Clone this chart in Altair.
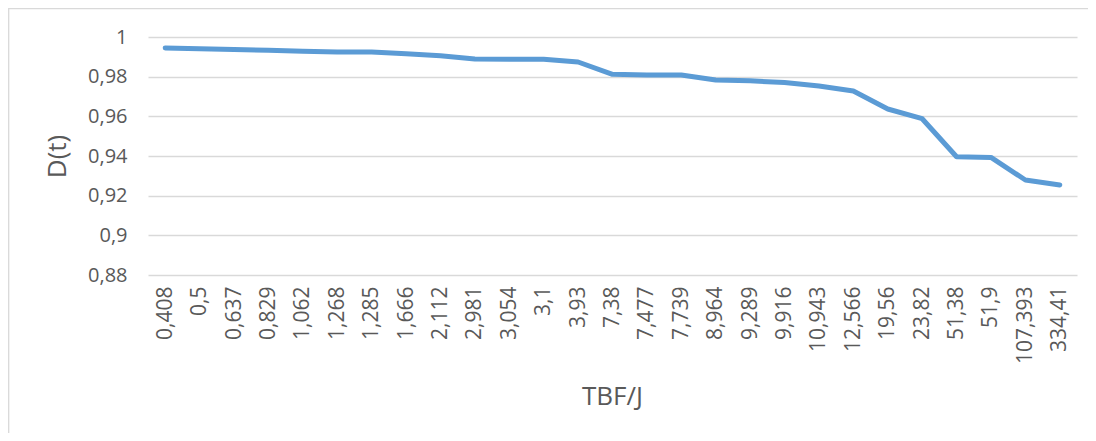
import altair as alt
import pandas as pd

categories = ["0,408", "0,5", "0,637", "0,829", "1,062", "1,268", "1,285", "1,666",
              "2,112", "2,981", "3,054", "3,1", "3,93", "7,38", "7,477", "7,739",
              "8,964", "9,289", "9,916", "10,943", "12,566", "19,56", "23,82",
              "51,38", "51,9", "107,393", "334,41"]
values = [0.9945, 0.9941, 0.9937, 0.9933, 0.9928, 0.9924, 0.9924, 0.9915,
          0.9905, 0.9889, 0.9888, 0.9888, 0.9874, 0.9812, 0.9808, 0.9808,
          0.9783, 0.9779, 0.9771, 0.9753, 0.9728, 0.9637, 0.9588,
          0.9396, 0.9393, 0.9279, 0.9254]
y_ticks = [0.88, 0.9, 0.92, 0.94, 0.96, 0.98, 1.0]

n = min(len(categories), len(values))
df = pd.DataFrame({"TBF": categories[:n], "D": values[:n]})

FONT = "Open Sans"
LABEL = "#595959"

line = alt.Chart(df).mark_line(color="#5B9BD5", strokeWidth=5, strokeJoin="round", strokeCap="round").encode(
    x=alt.X("TBF:O", sort=None, title="TBF/J",
            axis=alt.Axis(labelAngle=270, labelFontSize=21, labelColor=LABEL, labelFont=FONT,
                          labelPadding=11, ticks=False, domain=False, grid=False,
                          titleFontSize=26, titleFont=FONT, titleColor=LABEL, titleFontWeight="normal",
                          titleX=464, titleY=121, titleBaseline="middle", titleAlign="center")),
    y=alt.Y("D:Q", title="D(t)", scale=alt.Scale(domain=[0.88, 1.0], nice=False, zero=False),
            axis=alt.Axis(values=y_ticks, labelExpr="replace(format(datum.value, '.2~f'), '.', ',')",
                          labelFontSize=20, labelColor=LABEL, labelFont=FONT, labelPadding=21,
                          ticks=False, domain=False, gridColor="#D9D9D9", gridWidth=1.3,
                          titleFontSize=26, titleFont=FONT, titleColor=LABEL, titleFontWeight="normal",
                          titleX=-91, titleY=119, titleAngle=270, titleBaseline="middle",
                          titleAlign="center")),
)

border = alt.Chart(pd.DataFrame({"a": [0]})).mark_rect(fill=None, stroke="#D9D9D9", strokeWidth=1.3, clip=False).encode(
    x=alt.value(-139.3), x2=alt.value(960), y=alt.value(-28.3), y2=alt.value(420)
)

chart = alt.layer(border, line).properties(
    width=929, height=238,
    autosize=alt.AutoSizeParams(type="none"),
    padding={"left": 140, "top": 29, "right": 11, "bottom": 158},
    background="white",
).configure_view(stroke=None)

chart.save("out.html", embed_options={"renderer": "svg", "actions": False})
